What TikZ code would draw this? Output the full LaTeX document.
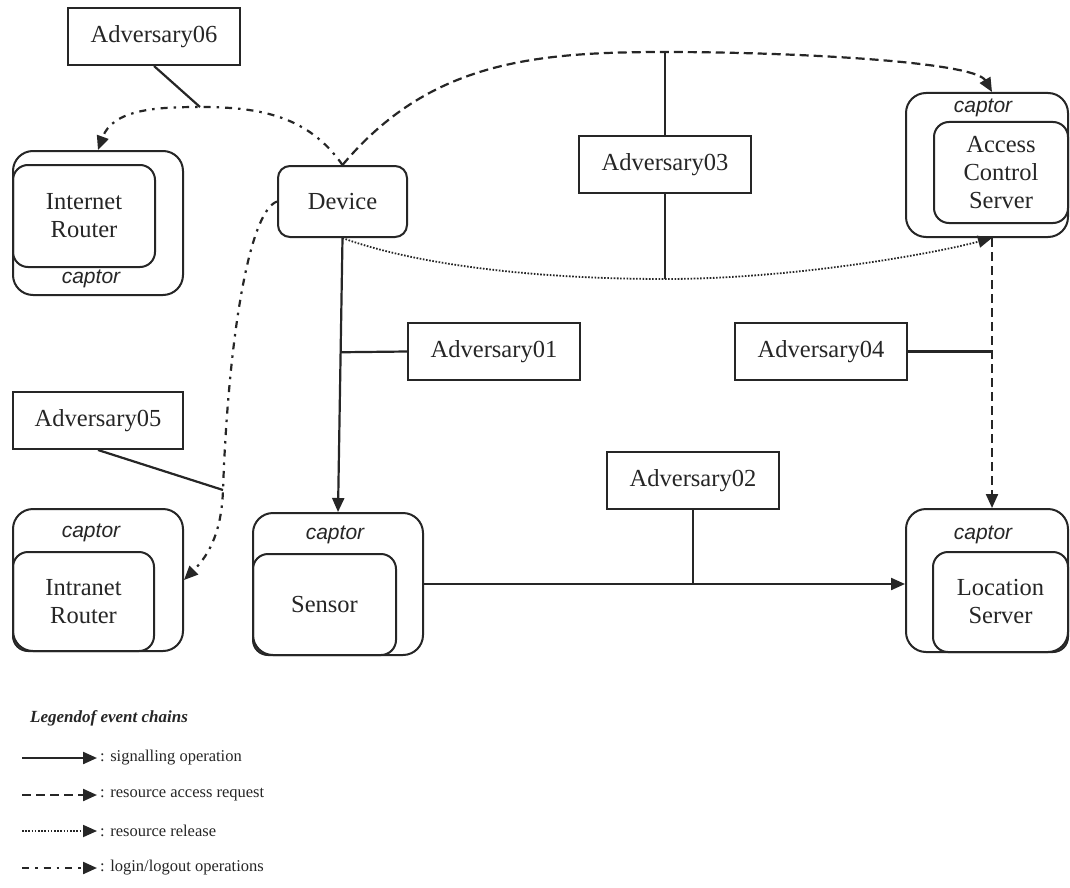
\documentclass[tikz,border=0pt]{standalone}
\usepackage{fontspec}
\setmainfont{Liberation Serif}
\newfontfamily\tagfont{Liberation Sans}
\usetikzlibrary{arrows.meta,calc}

\definecolor{ink}{HTML}{262626}

\tikzset{
  boxfont/.style={font=\fontsize{24.5}{28}\selectfont, text=ink},
  advbox/.style={boxfont, draw=ink, line width=2pt, minimum width=172pt,
    minimum height=57pt, inner sep=0pt},
  devbox/.style={boxfont, draw=ink, line width=2pt, rounded corners=12pt,
    minimum width=129pt, minimum height=71pt, inner sep=0pt},
  outerbox/.style={draw=ink, line width=2pt, rounded corners=20pt, inner sep=0pt},
  innerbox/.style={boxfont, draw=ink, line width=2pt, rounded corners=15pt,
    inner sep=0pt, align=center},
  captag/.style={font=\tagfont\itshape\fontsize{21}{24}\selectfont, inner sep=0pt, text=ink},
  conn/.style={draw=ink, line width=2.2pt},
  tip/.style={-{Triangle[length=14pt,width=12pt]}},
  sig/.style={conn, tip},
  req/.style={conn, tip, dash pattern=on 9pt off 5pt},
  rel/.style={conn, tip, line width=1.8pt, dash pattern=on 1.6pt off 1.6pt},
  logio/.style={conn, tip, dash pattern=on 7pt off 6pt on 2.5pt off 6pt},
  legtext/.style={anchor=west, inner xsep=3pt, inner ysep=0pt, text=ink,
    font=\fontsize{16.5}{19}\selectfont},
}

\begin{document}
\begin{tikzpicture}[x=1pt,y=1pt]
\useasboundingbox (0,0) rectangle (1070,-888);
\fill[white] (0,0) rectangle (1070,-888);

% adversaries
\node[advbox] (adv6) at (154,-36.5) {Adversary06};
\node[advbox] (adv3) at (665,-164.5) {Adversary03};
\node[advbox] (adv1) at (494,-351.5) {Adversary01};
\node[advbox] (adv4) at (821,-351.5) {Adversary04};
\node[advbox, minimum width=170pt] (adv5) at (98,-420.5) {Adversary05};
\node[advbox] (adv2) at (693,-480.5) {Adversary02};

% device
\node[devbox] (dev) at (342.5,-201.5) {Device};

% internet router
\node[outerbox, minimum width=170pt, minimum height=144pt] (ir) at (98,-223) {};
\node[innerbox, minimum width=142pt, minimum height=102pt] (irin) at (84,-216) {Internet\\Router};
\node[captag] (irtag) at (91,-279) {captor};

% intranet router
\node[outerbox, minimum width=170pt, minimum height=142pt] (ir2) at (98,-580) {};
\node[innerbox, minimum width=141pt, minimum height=99pt] (ir2in) at (83.5,-601.5) {Intranet\\Router};
\node[captag] (ir2tag) at (91,-533) {captor};

% sensor
\node[outerbox, minimum width=170pt, minimum height=142pt] (sen) at (338,-584) {};
\node[innerbox, minimum width=143pt, minimum height=101pt] (senin) at (324.5,-604.5) {Sensor};
\node[captag] (sentag) at (335,-535) {captor};

% access control server
\node[outerbox, minimum width=162pt, minimum height=144pt] (acs) at (987,-165) {};
\node[innerbox, minimum width=134pt, minimum height=101pt] (acsin) at (1001,-172.5) {Access\\Control\\Server};
\node[captag] (acstag) at (983,-108) {captor};

% location server
\node[outerbox, minimum width=162pt, minimum height=143pt] (loc) at (987,-580.5) {};
\node[innerbox, minimum width=135pt, minimum height=100pt] (locin) at (1000.5,-602) {Location\\Server};
\node[captag] (loctag) at (983,-535) {captor};

% junction points
\coordinate (p6) at (200,-107);
\coordinate (p3) at (665,-52);
\coordinate (q3) at (665,-279);
\coordinate (p5) at (223,-490);
\coordinate (acsb) at ([xshift=5pt]acs.south);
\coordinate (acst) at ([xshift=5pt]acs.north);
\coordinate (loct) at ([xshift=5pt]loc.north);
\coordinate (j1) at ($(dev.south)!0.417!(sen.north)$);

% signalling
\draw[sig] (dev.south) -- (sen.north);
\draw[conn] (adv1.west) -- (j1);
\draw[sig] (sen.east) -- (sen.east -| loc.west);
\draw[conn] (adv2.south) -- (adv2.south |- sen.east);

% resource access requests
\draw[req] (dev.north) to[out=50,in=180] (p3) to[out=0,in=120,in distance=35pt] (acst);
\draw[conn] (p3) -- (adv3.north);
\draw[req] (acsb) -- (loct);
\draw[conn] (adv4.east) -- (adv4.east -| acsb);

% resource release
\draw[rel] (dev.south) to[out=-20,in=180,out distance=80pt] (q3)
  to[out=0,in=-165,in distance=60pt] (acsb);
\draw[conn] (adv3.south) -- (q3);

% login / logout
\draw[logio] (dev.north) to[out=125,in=0] (p6) to[out=180,in=70] (ir.north);
\draw[conn] (adv6.south) -- (p6);
\draw[logio] (dev.west) to[out=200,in=88,out distance=30pt,in distance=150pt] (p5)
  to[out=268,in=45] (ir2.east);
\draw[conn] (adv5.south) -- (p5);

% legend
\node[anchor=west, inner sep=0pt, text=ink,
  font=\bfseries\itshape\fontsize{17}{20}\selectfont] (lgtitle) at (30,-718) {Legendof event chains};
\coordinate (l1) at (22,-758);
\coordinate (l2) at (22,-795);
\coordinate (l3) at (22,-831);
\coordinate (l4) at (22,-868);
\node[legtext] (t1) at (97,-758) {: signalling operation};
\node[legtext] (t2) at (97,-795) {: resource access request};
\node[legtext] (t3) at (97,-831) {: resource release};
\node[legtext] (t4) at (97,-868) {: login/logout operations};
\draw[sig] (l1) -- (t1.west);
\draw[req] (l2) -- (t2.west);
\draw[rel] (l3) -- (t3.west);
\draw[logio] (l4) -- (t4.west);
\end{tikzpicture}
\end{document}
